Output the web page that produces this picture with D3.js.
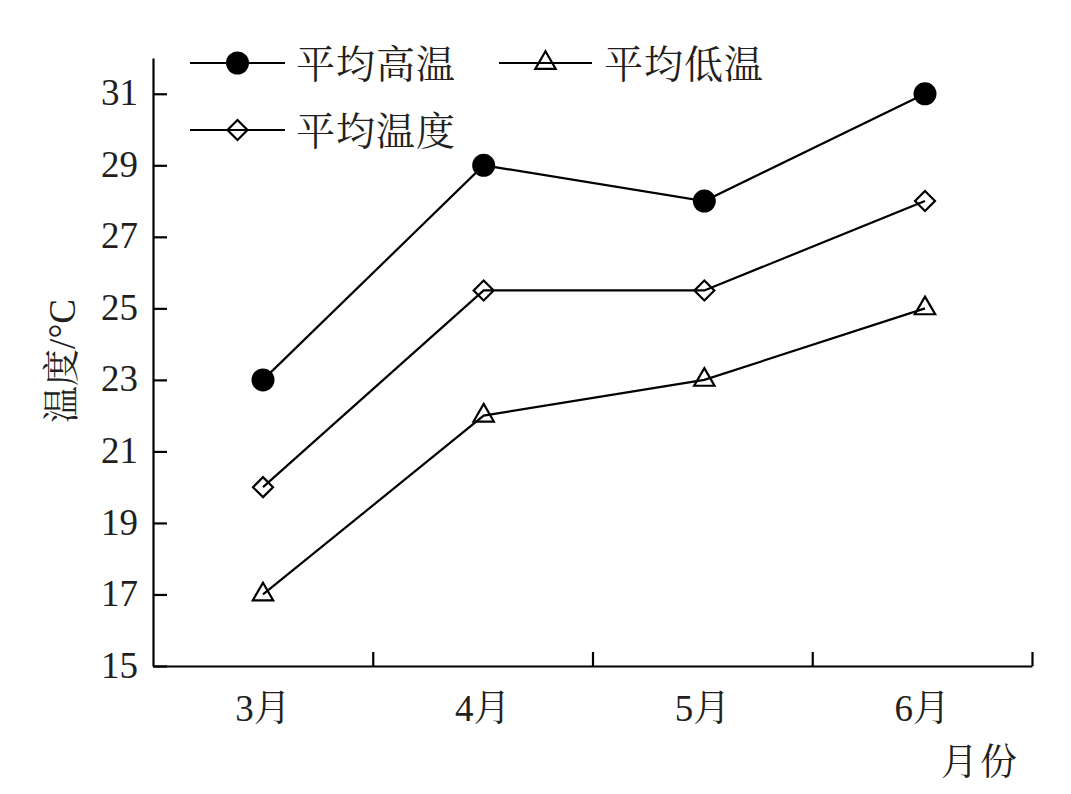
<!DOCTYPE html>
<html>
<head>
<meta charset="utf-8">
<script src="https://cdn.jsdelivr.net/npm/d3@7"></script>
<style>
  html, body { margin: 0; padding: 0; background: #fff; }
  svg { display: block; }
  text { font-family: "Liberation Serif", "Noto Serif CJK SC", "Noto Sans CJK SC", serif; fill: #231f20; }
</style>
</head>
<body>
<svg id="chart" width="1071" height="794"></svg>
<script>
const months = ["3月", "4月", "5月", "6月"];
const avgHigh = [23, 29, 28, 31];
const avgLow = [17, 22, 23, 25];
const avgTemp = [20, 25.5, 25.5, 28];
const yTicks = [15, 17, 19, 21, 23, 25, 27, 29, 31];
const seriesNames = ["平均高温", "平均低温", "平均温度"];
const xTitle = "月份";
const yTitle = "温度/°C";

const svg = d3.select("#chart");
const plotLeft = 153, plotRight = 1032, plotTop = 58, plotBottom = 666;

const x = d3.scaleBand().domain(months).range([plotLeft, plotRight]);
const xPt = d3.scalePoint().domain(months).range([263, 925]);
const xEdge = d3.scaleLinear().domain([0, months.length]).range([plotLeft, plotRight]);
const y = d3.scaleLinear().domain([15, 32]).range([plotBottom, plotTop]);

// Y axis
const yAxis = svg.append("g")
  .attr("transform", `translate(${plotLeft},0)`)
  .call(d3.axisLeft(y).tickValues(yTicks).tickSizeInner(-14).tickSizeOuter(0).tickPadding(15));
yAxis.selectAll("path, line").attr("stroke", "#000").attr("stroke-width", 2.2);
yAxis.selectAll("text").attr("font-size", 37).attr("dy", "0.3em")
  .style("font-family", "'Liberation Serif', serif");

// X axis (boundary ticks)
const xAxisEdges = svg.append("g")
  .attr("transform", `translate(0,${plotBottom})`)
  .call(d3.axisBottom(xEdge).tickValues(d3.range(1, months.length + 1)).tickSizeInner(-14).tickSizeOuter(0).tickFormat(""));
xAxisEdges.selectAll("path, line").attr("stroke", "#000").attr("stroke-width", 2.2);

// X labels
const xAxisLabels = svg.append("g")
  .attr("transform", `translate(0,${plotBottom})`)
  .call(d3.axisBottom(x).tickSize(0));
xAxisLabels.select(".domain").remove();
xAxisLabels.selectAll("text").attr("font-size", 37).attr("y", 55).attr("dy", 0);

// Titles
svg.append("text").attr("x", 980).attr("y", 775).attr("text-anchor", "middle")
  .attr("font-size", 37).attr("letter-spacing", 2).text(xTitle);
svg.append("text").attr("transform", "rotate(-90)").attr("x", -361).attr("y", 62)
  .attr("dy", "0.35em").attr("text-anchor", "middle").attr("font-size", 37).text(yTitle);

// Series
const line = d3.line().x((d, i) => xPt(months[i])).y(d => y(d));
const series = [
  { name: seriesNames[0], values: avgHigh, marker: "circle" },
  { name: seriesNames[1], values: avgLow, marker: "triangle" },
  { name: seriesNames[2], values: avgTemp, marker: "diamond" }
];

function drawMarker(g, type, cx, cy) {
  if (type === "circle") {
    g.append("circle").attr("cx", cx).attr("cy", cy).attr("r", 11.5).attr("fill", "#000");
  } else if (type === "triangle") {
    g.append("path").attr("d", d3.symbol().type(d3.symbolTriangle).size(180)())
      .attr("transform", `translate(${cx},${cy})`)
      .attr("fill", "none").attr("stroke", "#000").attr("stroke-width", 2.2);
  } else {
    g.append("path").attr("d", d3.symbol().type(d3.symbolSquare).size(200)())
      .attr("transform", `translate(${cx},${cy}) rotate(45)`)
      .attr("fill", "none").attr("stroke", "#000").attr("stroke-width", 2.2);
  }
}

series.forEach(s => {
  const g = svg.append("g");
  g.append("path").datum(s.values).attr("d", line)
    .attr("fill", "none").attr("stroke", "#000").attr("stroke-width", 2.2);
  s.values.forEach((v, i) => drawMarker(g, s.marker, xPt(months[i]), y(v)));
});

// Legend
const legendPos = [
  { x0: 190, x1: 285, y: 63, tx: 296, ty: 78 },
  { x0: 499, x1: 592, y: 63, tx: 604, ty: 78 },
  { x0: 190, x1: 285, y: 130, tx: 296, ty: 145 }
];
series.forEach((s, i) => {
  const p = legendPos[i];
  const g = svg.append("g");
  g.append("line").attr("x1", p.x0).attr("x2", p.x1).attr("y1", p.y).attr("y2", p.y)
    .attr("stroke", "#000").attr("stroke-width", 2.2);
  drawMarker(g, s.marker, (p.x0 + p.x1) / 2, p.y);
  g.append("text").attr("x", p.tx).attr("y", p.ty).attr("font-size", 39).attr("letter-spacing", 1).text(s.name);
});
</script>
</body>
</html>
